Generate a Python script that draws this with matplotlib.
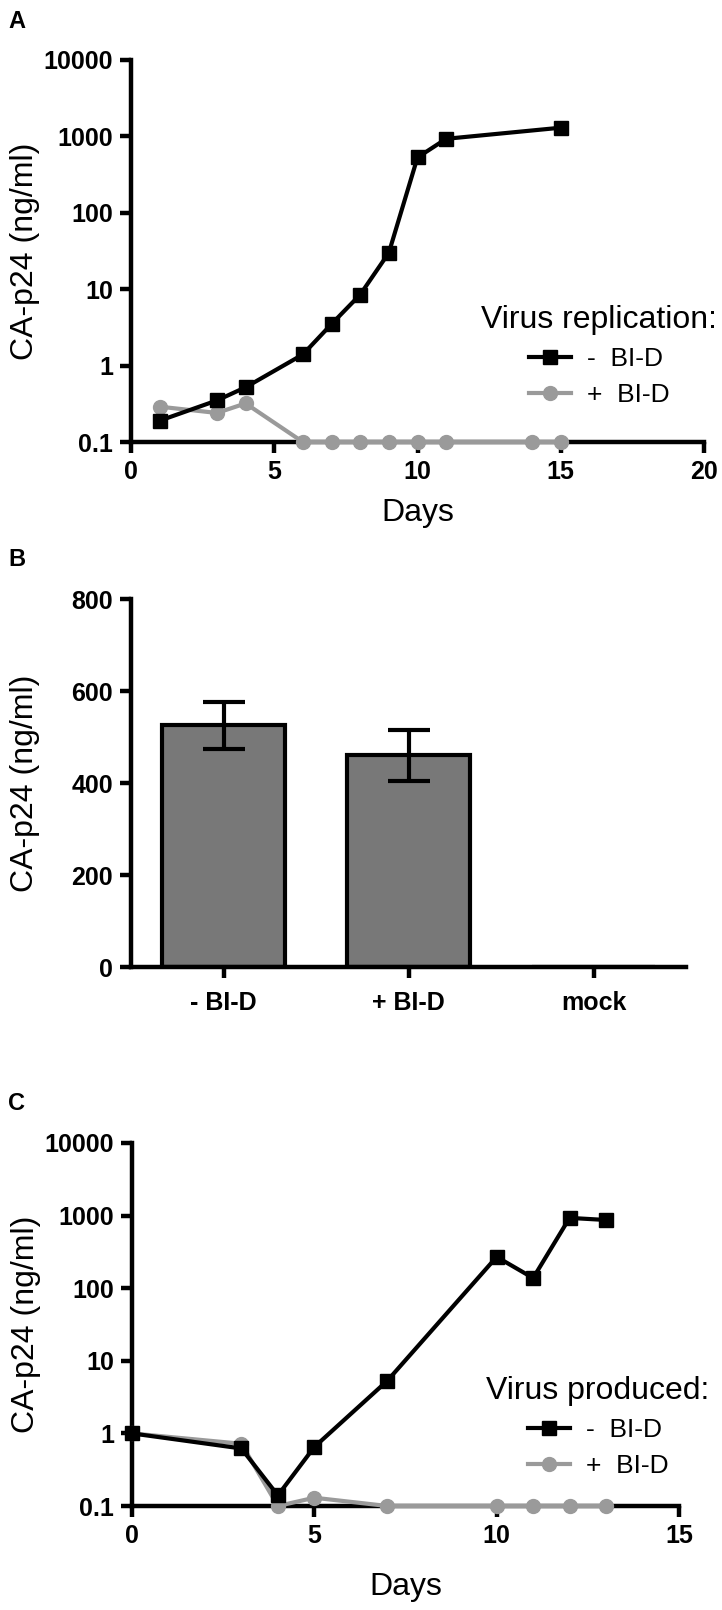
"""CA-p24 in culture supernatants: replication kinetics, single-round yield
and virus produced, with and without BI-D."""

import matplotlib

matplotlib.use("Agg")
import matplotlib.pyplot as plt
from matplotlib.lines import Line2D
from matplotlib.ticker import FixedLocator, FixedFormatter, NullLocator

plt.rcParams["font.family"] = ["Liberation Sans", "DejaVu Sans"]

W, H = 722, 1610

# panel A: virus replication
A_DAYS_MINUS = [1, 3, 4, 6, 7, 8, 9, 10, 11, 15]
A_P24_MINUS = [0.19, 0.35, 0.52, 1.4, 3.5, 8.5, 30, 530, 930, 1300]
A_DAYS_PLUS = [1, 3, 4, 6, 7, 8, 9, 10, 11, 14, 15]
A_P24_PLUS = [0.29, 0.24, 0.32, 0.1, 0.1, 0.1, 0.1, 0.1, 0.1, 0.1, 0.1]

# panel B: bars with error
B_GROUPS = ["- BI-D", "+ BI-D", "mock"]
B_MEAN = [525, 460, 0]
B_ERR = [52, 55, 0]

# panel C: virus produced
C_DAYS_MINUS = [0, 3, 4, 5, 7, 10, 11, 12, 13]
C_P24_MINUS = [1.0, 0.62, 0.14, 0.65, 5.3, 270, 138, 930, 870]
C_DAYS_PLUS = [0, 3, 4, 5, 7, 10, 11, 12, 13]
C_P24_PLUS = [1.0, 0.72, 0.1, 0.13, 0.1, 0.1, 0.1, 0.1, 0.1]

LOG_TICKS = [0.1, 1, 10, 100, 1000, 10000]
LOG_LABELS = ["0.1", "1", "10", "100", "1000", "10000"]

GRAY = "#9a9a9a"
SPINE_W = 3.2
TICK_FS = 18
LABEL_FS = 23
LEG_FS = 19


def px_axes(fig, left, top, right, bottom):
    return fig.add_axes([left / W, 1 - bottom / H, (right - left) / W, (bottom - top) / H])


def style_axis(ax):
    for side in ("top", "right"):
        ax.spines[side].set_visible(False)
    for side in ("left", "bottom"):
        ax.spines[side].set_linewidth(SPINE_W)
        ax.spines[side].set_capstyle("projecting")
    ax.tick_params(direction="out", length=8, width=SPINE_W, labelsize=TICK_FS, pad=5)
    for lab in ax.get_xticklabels() + ax.get_yticklabels():
        lab.set_fontweight("bold")


def time_course(ax, days_m, p24_m, days_p, p24_p, xmax, xticks, title):
    ax.plot(days_p, p24_p, "-o", color=GRAY, lw=3, ms=10, clip_on=False, zorder=4)
    ax.plot(days_m, p24_m, "-s", color="black", lw=3, ms=10, clip_on=False, zorder=5)
    ax.set_yscale("log")
    ax.set_ylim(0.1, 10000)
    ax.set_xlim(0, xmax)
    ax.yaxis.set_major_locator(FixedLocator(LOG_TICKS))
    ax.yaxis.set_major_formatter(FixedFormatter(LOG_LABELS))
    ax.yaxis.set_minor_locator(NullLocator())
    ax.set_xticks(xticks)
    style_axis(ax)
    ax.set_ylabel("CA-p24 (ng/ml)", fontsize=LABEL_FS)
    ax.yaxis.set_label_coords(-91 / (ax.get_position().width * W), 0.5)
    ax.set_xlabel("Days", fontsize=LABEL_FS)

    handles = [
        Line2D([], [], color="black", marker="s", lw=3, ms=10),
        Line2D([], [], color=GRAY, marker="o", lw=3, ms=10),
    ]
    return ax.legend(
        handles, ["-  BI-D", "+  BI-D"], title=title, frameon=False,
        fontsize=LEG_FS, title_fontsize=LABEL_FS, handlelength=1.6,
        handletextpad=0.6, labelspacing=0.45, borderpad=0,
    )


fig = plt.figure(figsize=(W / 100, H / 100), dpi=100)

# A
ax_a = px_axes(fig, 131, 60, 704, 442)
leg = time_course(ax_a, A_DAYS_MINUS, A_P24_MINUS, A_DAYS_PLUS, A_P24_PLUS,
                  20, [0, 5, 10, 15, 20], "Virus replication:")
leg.set_loc("center")
leg.set_bbox_to_anchor((599 / W, 1 - 356 / H), transform=fig.transFigure)
ax_a.xaxis.set_label_coords(0.5, -56 / 382)

# B
ax_b = px_axes(fig, 131, 599, 686, 967)
x = list(range(len(B_GROUPS)))
ax_b.bar(x, B_MEAN, width=0.67, color="#787878", edgecolor="black", linewidth=3, zorder=2)
ax_b.errorbar(x[:2], B_MEAN[:2], yerr=B_ERR[:2], fmt="none", ecolor="black",
              elinewidth=3, capsize=15, capthick=3, zorder=3)
ax_b.set_xlim(-0.5, 2.5)
ax_b.set_ylim(0, 800)
ax_b.set_yticks([0, 200, 400, 600, 800])
ax_b.set_xticks(x, B_GROUPS)
style_axis(ax_b)
ax_b.tick_params(axis="x", pad=9)
ax_b.set_ylabel("CA-p24 (ng/ml)", fontsize=LABEL_FS)
ax_b.yaxis.set_label_coords(-91 / 555, 0.5)

# C
ax_c = px_axes(fig, 132, 1143, 679, 1506)
leg = time_course(ax_c, C_DAYS_MINUS, C_P24_MINUS, C_DAYS_PLUS, C_P24_PLUS,
                  15, [0, 5, 10, 15], "Virus produced:")
leg.set_loc("center")
leg.set_bbox_to_anchor((598 / W, 1 - 1427 / H), transform=fig.transFigure)
ax_c.xaxis.set_label_coords(0.5, -66 / 363)

for letter, ypx in (("A", 22), ("B", 560), ("C", 1103)):
    fig.text(8 / W, 1 - ypx / H, letter, fontsize=17, fontweight="bold", va="center")

fig.savefig("out.png", dpi=100, facecolor="white")
